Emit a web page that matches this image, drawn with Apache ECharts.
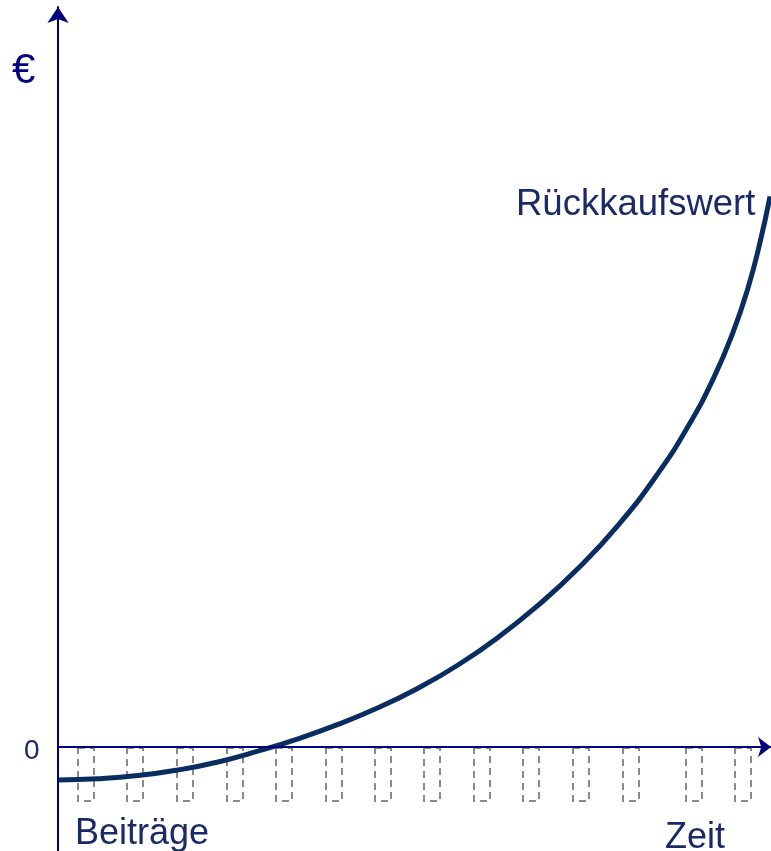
<!DOCTYPE html>
<html><head><meta charset="utf-8">
<script src="https://cdn.jsdelivr.net/npm/echarts@6/dist/echarts.min.js"></script>
<style>html,body{margin:0;padding:0;background:#fff}#c{width:771px;height:851px}</style>
</head><body><div id="c"></div>
<script>
// Rückkaufswert curve (x = time units, y = value units; 0 = x-axis)
const curveX = [0, 40, 80, 120, 160, 200, 240, 280, 320, 360, 400, 440, 480, 520, 560, 600, 630, 655, 675, 690, 702, 712];
const curveY = [-33, -31.8, -28.6, -23, -15, -4.2, 8.2, 22.6, 39.2, 58.8, 82, 109.6, 141.6, 178.4, 221.6, 273.6, 320.4, 367.7, 414.7, 459, 504.6, 550.6];
// Beiträge (premium payments), shown as negative bars
const premiumX = [28, 77, 127, 177, 226, 276, 325, 374, 424, 473, 523, 573, 636, 685];
const premiumY = [-55, -55, -55, -55, -55, -55, -55, -55, -55, -55, -55, -55, -55, -55];
const labels = {y: '€', zero: '0', premiums: 'Beiträge', time: 'Zeit', curve: 'Rückkaufswert'};

const chart = echarts.init(document.getElementById('c'));
const axisColor = '#000080';
const textColor = '#1b2a66';
const font = 'Liberation Sans, Arial, sans-serif';
chart.setOption({
  animation: false,
  grid: {left: 58, right: 0, top: 7, bottom: 0, containLabel: false},
  xAxis: {
    type: 'value', min: 0, max: 713, z: 10,
    axisLine: {show: true, onZero: true, lineStyle: {color: axisColor, width: 2},
      symbol: ['none', 'arrow'], symbolSize: [15, 13]},
    axisTick: {show: false}, axisLabel: {show: false}, splitLine: {show: false}
  },
  yAxis: {
    type: 'value', min: -104, max: 740, z: 10,
    axisLine: {show: true, lineStyle: {color: axisColor, width: 2},
      symbol: ['none', 'arrow'], symbolSize: [16, 16]},
    axisTick: {show: false}, axisLabel: {show: false}, splitLine: {show: false}
  },
  series: [
    {
      type: 'bar', barWidth: 18,
      data: premiumX.map((x, i) => [x, premiumY[i]]),
      itemStyle: {color: 'rgba(0,0,0,0)', borderColor: '#8a8a8a', borderWidth: 2, borderType: [7, 5]},
      z: 1
    },
    {
      type: 'line', smooth: 0.5, symbol: 'none', clip: false,
      data: curveX.map((x, i) => [x, curveY[i]]),
      lineStyle: {color: '#0a2d61', width: 5, join: 'round'},
      z: 5
    }
  ],
  graphic: [
    {type: 'text', left: 12, top: 50, style: {text: labels.y, font: '42px ' + font, fill: axisColor}},
    {type: 'text', left: 24, top: 737, style: {text: labels.zero, font: '28px ' + font, fill: textColor}},
    {type: 'text', left: 75, top: 816, style: {text: labels.premiums, font: '36px ' + font, fill: textColor}},
    {type: 'text', left: 665, top: 820, style: {text: labels.time, font: '36px ' + font, fill: textColor}},
    {type: 'text', left: 516, top: 186, style: {text: labels.curve, font: '36.5px ' + font, fill: textColor}}
  ]
});
</script></body></html>
